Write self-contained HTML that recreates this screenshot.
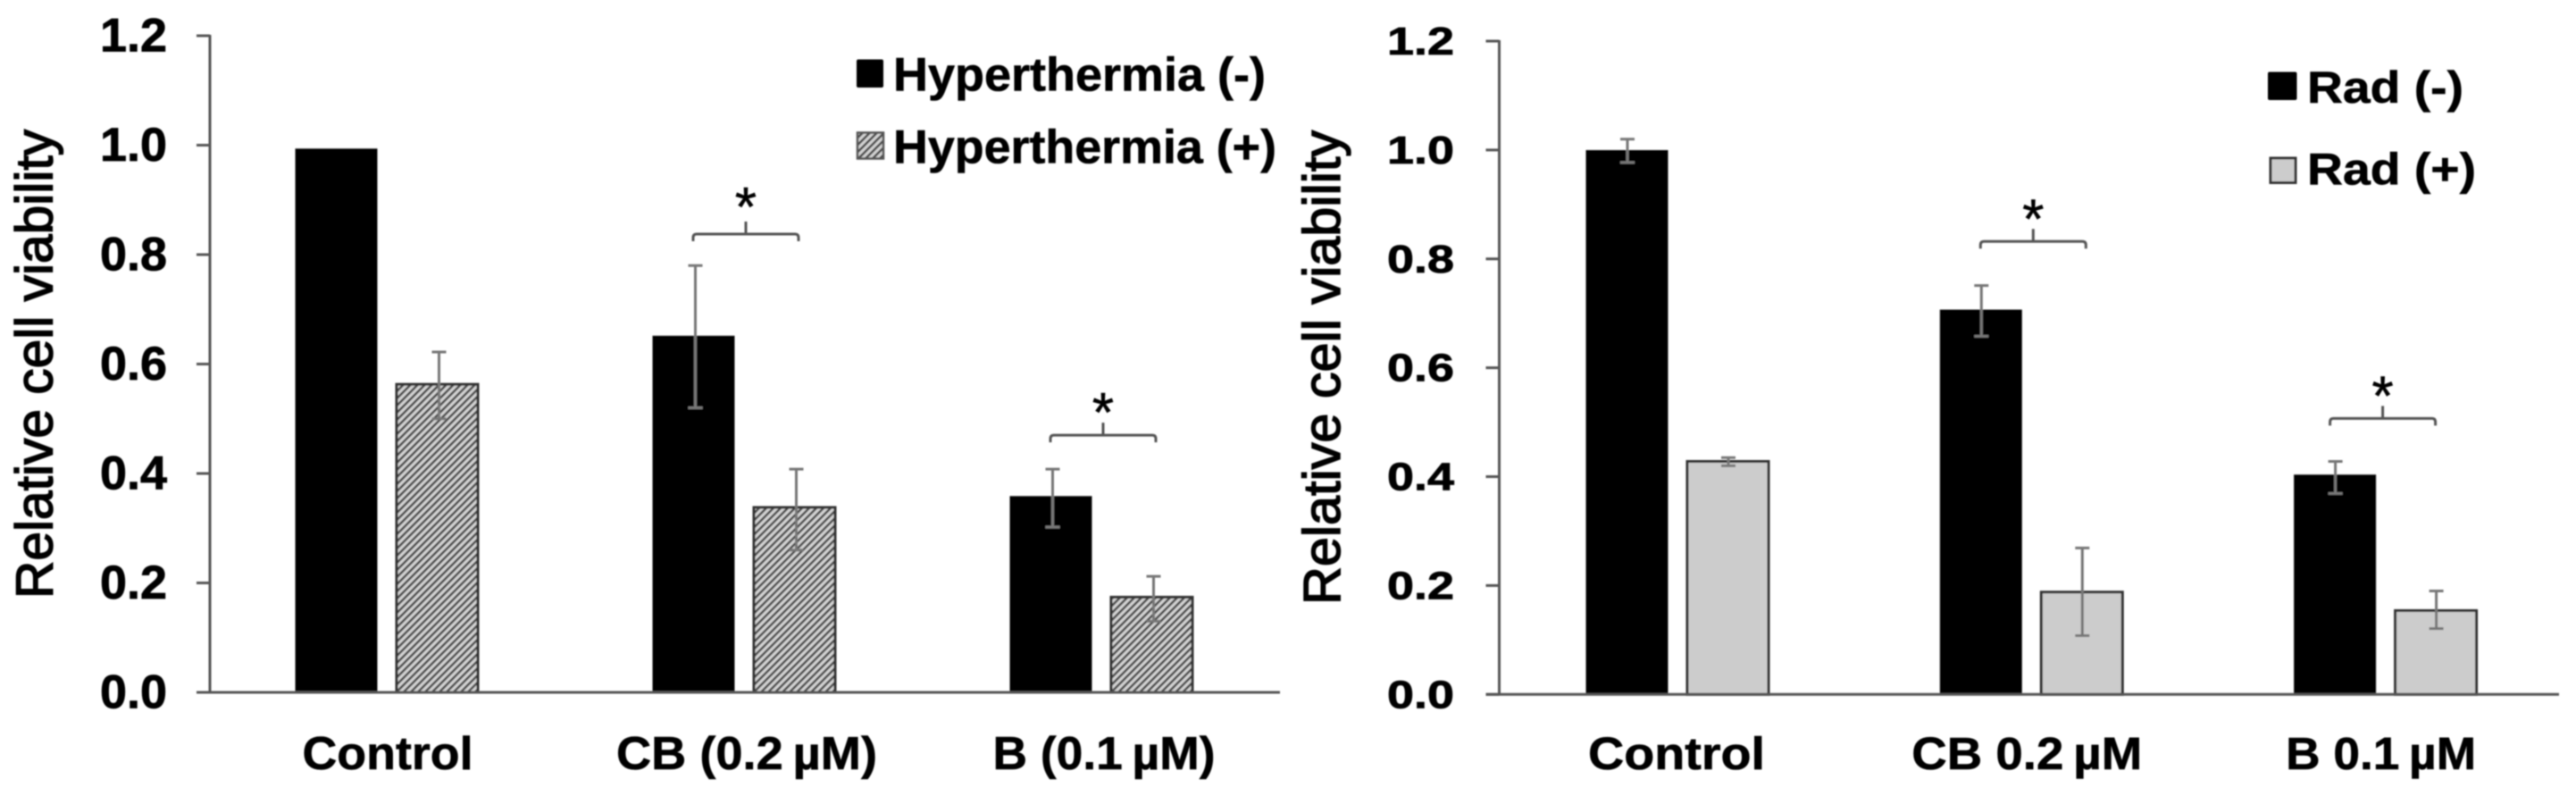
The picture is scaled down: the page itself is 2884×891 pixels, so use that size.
<!DOCTYPE html>
<html lang="en">
<head>
<meta charset="utf-8">
<title>Relative cell viability charts</title>
<style>
  html, body { margin: 0; padding: 0; background: #fff; width: 2884px; height: 891px; overflow: hidden; }
  svg { display: block; }
  text { font-family: "Liberation Sans", Arial, sans-serif; fill: #000; }
  .bold { font-weight: 700; stroke: #000; stroke-width: 0.6; }
</style>
</head>
<body>
<svg id="figure" xmlns="http://www.w3.org/2000/svg" width="2884" height="891" viewBox="0 0 2884 891">
  <defs>
    <filter id="soft" filterUnits="userSpaceOnUse" x="0" y="0" width="2884" height="891">
      <feGaussianBlur stdDeviation="0.9"></feGaussianBlur>
    </filter>
    <pattern id="hatch" patternUnits="userSpaceOnUse" width="8" height="5.66" patternTransform="rotate(-45)">
      <rect width="8" height="5.66" fill="#d4d4d4"></rect>
      <rect width="8" height="2.6" fill="#4a4a4a"></rect>
    </pattern>
  </defs>
  <g id="root" filter="url(#soft)">
    <g id="left-panel">
      <text transform="translate(58.5,670) rotate(-90)" font-size="58" stroke="#000" stroke-width="1.5" textLength="525" lengthAdjust="spacingAndGlyphs">Relative cell viability</text>
      <g>
        <rect x="959" y="66.5" width="30" height="31.5" rx="2" fill="#000"></rect>
        <text class="bold" x="1000" y="101.5" font-size="53" textLength="417" lengthAdjust="spacingAndGlyphs">Hyperthermia (-)</text>
        <rect x="960" y="148.5" width="29" height="29" fill="url(#hatch)" stroke="#555" stroke-width="2.5"></rect>
        <text class="bold" x="1000" y="182.5" font-size="53" textLength="429" lengthAdjust="spacingAndGlyphs">Hyperthermia (+)</text>
      </g>
    </g>
    <g id="right-panel">
      <text transform="translate(1500,677) rotate(-90)" font-size="58" stroke="#000" stroke-width="1.5" textLength="531" lengthAdjust="spacingAndGlyphs">Relative cell viability</text>
      <g>
        <rect x="2539" y="80.5" width="32.5" height="31.5" rx="2" fill="#000"></rect>
        <text class="bold" x="2583" y="115" font-size="50" textLength="175" lengthAdjust="spacingAndGlyphs">Rad (-)</text>
        <rect x="2542" y="177" width="28" height="27.5" fill="#ccc" stroke="#333" stroke-width="3"></rect>
        <text class="bold" x="2583" y="206.5" font-size="50" textLength="189" lengthAdjust="spacingAndGlyphs">Rad (+)</text>
      </g>
    </g>
  </g>
</svg>
<script>
// ---- shared axis ticks ----
const tickValues = [0, 0.2, 0.4, 0.6, 0.8, 1.0, 1.2];
const tickLabels = ['0.0', '0.2', '0.4', '0.6', '0.8', '1.0', '1.2'];

// ---- left chart data ----
const hyperCategories = ['Control', 'CB (0.2\u2009\u00B5M)', 'B (0.1\u2009\u00B5M)'];
const hyperMinus = [0.993, 0.651, 0.358];
const hyperMinusHigh = [null, 0.78, 0.408];
const hyperMinusLow = [null, 0.52, 0.302];
const hyperPlus = [0.563, 0.338, 0.174];
const hyperPlusHigh = [0.622, 0.408, 0.212];
const hyperPlusLow = [0.50, 0.26, 0.13];
const hyperBrackets = [null, 0.8376, 0.470];

// ---- right chart data ----
const radCategories = ['Control', 'CB 0.2\u2009\u00B5M', 'B 0.1\u2009\u00B5M'];
const radMinus = [0.999, 0.706, 0.403];
const radMinusHigh = [1.02, 0.751, 0.428];
const radMinusLow = [0.977, 0.658, 0.369];
const radPlus = [0.428, 0.188, 0.154];
const radPlusHigh = [0.435, 0.269, 0.19];
const radPlusLow = [0.42, 0.108, 0.121];
const radBrackets = [null, 0.832, 0.507];

const SVGNS = 'http://www.w3.org/2000/svg';

function make(parent, tag, attrs, content) {
  const el = document.createElementNS(SVGNS, tag);
  for (const key in attrs) el.setAttribute(key, attrs[key]);
  if (content !== undefined) el.textContent = content;
  parent.appendChild(el);
  return el;
}

function drawPanel(cfg, d) {
  const parent = document.getElementById(cfg.id);
  const y = v => cfg.y0 - v * cfg.yUnit;
  const groupX = i => cfg.firstBar + i * cfg.groupStep;
  const axisColor = '#555';

  // bars & error bars
  function series(values, high, low, seriesIndex, seriesName) {
    values.forEach((v, i) => {
      const x = groupX(i) + seriesIndex * cfg.barOffset;
      const isSecond = seriesIndex === 1;
      const bar = make(parent, 'rect', {
        x: x, y: y(v), width: cfg.barWidth, height: y(0) - y(v),
        fill: isSecond ? cfg.plusFill : '#000',
        stroke: isSecond ? '#333' : '#111',
        'stroke-width': isSecond ? 3 : 1
      });
      
      
    });
    values.forEach((v, i) => {
      if (high[i] === null) return;
      const cx = groupX(i) + seriesIndex * cfg.barOffset + cfg.barWidth / 2 + cfg.errShift;
      const err = make(parent, 'path', {
        d: 'M' + cx + ' ' + y(low[i]) + 'V' + y(high[i]) +
           'M' + (cx - 8) + ' ' + y(high[i]) + 'H' + (cx + 8) +
           'M' + (cx - 8) + ' ' + y(low[i]) + 'H' + (cx + 8),
        fill: 'none', stroke: '#777', 'stroke-width': 3
      });
      
      
    });
  }
  series(d.minus, d.minusHigh, d.minusLow, 0, 'minus');
  series(d.plus, d.plusHigh, d.plusLow, 1, 'plus');

  // y axis
  const yAxis = make(parent, 'line', {
    x1: cfg.axisX, x2: cfg.axisX, y1: y(1.2) - 1, y2: y(0),
    stroke: axisColor, 'stroke-width': 3
  });
  
  

  // x axis
  const xAxis = make(parent, 'line', {
    x1: cfg.axisX - 15, x2: cfg.axisEnd, y1: y(0), y2: y(0),
    stroke: axisColor, 'stroke-width': 3
  });
  
  

  // ticks
  tickValues.forEach((t, i) => {
    const tick = make(parent, 'line', {
      x1: cfg.axisX - 15, x2: cfg.axisX, y1: y(t), y2: y(t),
      stroke: axisColor, 'stroke-width': 3
    });
    
    
    const label = make(parent, 'text', {
      x: cfg.tickLabelX, y: y(t) + cfg.tickBaseline,
      'font-size': cfg.tickFont, 'font-weight': 700, stroke: '#000', 'stroke-width': 0.8,
      textLength: cfg.tickLabelWidth, lengthAdjust: 'spacingAndGlyphs'
    }, tickLabels[i]);
    
    
  });

  // category labels
  d.categories.forEach((c, i) => {
    const mid = groupX(i) + (cfg.barOffset + cfg.barWidth) / 2 + cfg.catShift[i];
    const label = make(parent, 'text', {
      x: mid - cfg.catWidths[i] / 2, y: cfg.catBaseline,
      'font-size': cfg.catFont, 'font-weight': 700, stroke: '#000', 'stroke-width': 0.6,
      textLength: cfg.catWidths[i], lengthAdjust: 'spacingAndGlyphs'
    }, c);
    
    
  });

  // significance brackets
  d.brackets.forEach((level, i) => {
    if (level === null) return;
    const mid = groupX(i) + (cfg.barOffset + cfg.barWidth) / 2 + cfg.bracketShift[i];
    const by = y(level);
    const half = 59;
    const bracket = make(parent, 'path', {
      d: 'M' + (mid - half) + ' ' + (by + 8) + 'V' + (by + 4) + 'Q' + (mid - half) + ' ' + by + ' ' + (mid - half + 4) + ' ' + by +
         'H' + (mid + half - 4) + 'Q' + (mid + half) + ' ' + by + ' ' + (mid + half) + ' ' + (by + 4) + 'V' + (by + 8) +
         'M' + mid + ' ' + by + 'V' + (by - 14),
      fill: 'none', stroke: '#555', 'stroke-width': 3
    });
    
    
    const star = make(parent, 'text', {
      x: mid, y: by - 4 - cfg.starLift[i], 'font-size': 62, 'text-anchor': 'middle', 'font-weight': 400,
      stroke: '#000', 'stroke-width': 0.6
    }, '*');
    
    
  });
}

drawPanel({
  id: 'left-panel', y0: 775, yUnit: 612.5, axisX: 235, axisEnd: 1433,
  firstBar: 331, groupStep: 400, barWidth: 91, barOffset: 113, errShift: 2,
  plusFill: 'url(#hatch)',
  tickLabelX: 112, tickLabelWidth: 75, tickFont: 53, tickBaseline: 17.5,
  catBaseline: 861, catFont: 52, catShift: [1, 3, 3], catWidths: [191, 292, 249],
  bracketShift: [0, 2, 2], starLift: [0, 5, 0]
}, {
  categories: hyperCategories, minus: hyperMinus, minusHigh: hyperMinusHigh, minusLow: hyperMinusLow,
  plus: hyperPlus, plusHigh: hyperPlusHigh, plusLow: hyperPlusLow, brackets: hyperBrackets
});

drawPanel({
  id: 'right-panel', y0: 777.3, yUnit: 609.4, axisX: 1678.5, axisEnd: 2865,
  firstBar: 1776, groupStep: 396.3, barWidth: 91, barOffset: 113, errShift: 0.5,
  plusFill: '#ccc',
  tickLabelX: 1553, tickLabelWidth: 75, tickFont: 44, tickBaseline: 15,
  catBaseline: 861, catFont: 51, catShift: [-1, -5, -5], catWidths: [198, 258, 213],
  bracketShift: [0, 2, -3], starLift: [0, 0, 0]
}, {
  categories: radCategories, minus: radMinus, minusHigh: radMinusHigh, minusLow: radMinusLow,
  plus: radPlus, plusHigh: radPlusHigh, plusLow: radPlusLow, brackets: radBrackets
});
</script>
</body>
</html>
